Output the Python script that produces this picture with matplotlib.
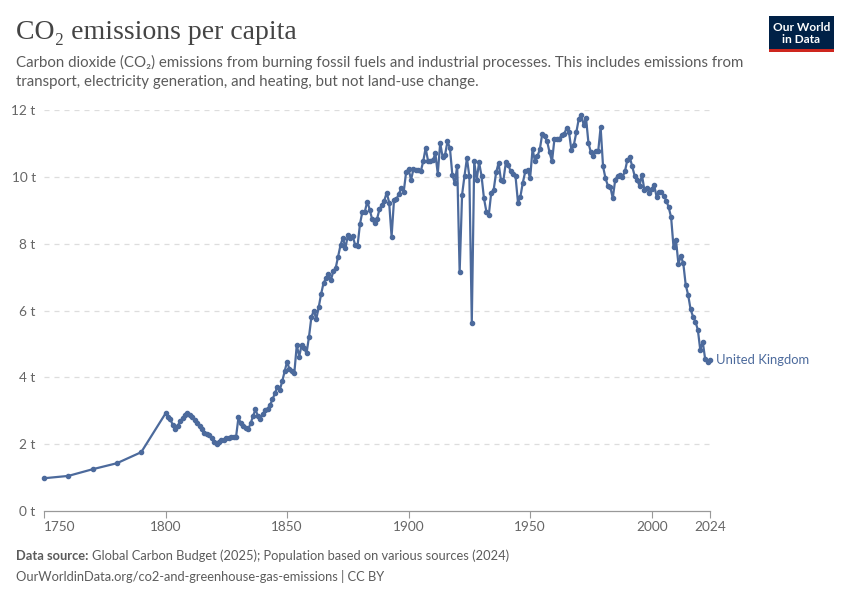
import numpy as np
import matplotlib
matplotlib.use("Agg")
import matplotlib.pyplot as plt
from matplotlib.patches import Rectangle

# UK CO2 emissions per capita (tonnes)
early_years = [1750, 1760, 1770, 1780, 1790]
early_values = [0.98, 1.05, 1.25, 1.43, 1.76]

annual_start = 1800
annual_values = [
    # 1800-1829
    2.92, 2.80, 2.74, 2.57, 2.45, 2.55, 2.68, 2.77, 2.87, 2.92,
    2.87, 2.80, 2.72, 2.62, 2.53, 2.45, 2.33, 2.30, 2.28, 2.18,
    2.05, 2.01, 2.05, 2.11, 2.13, 2.17, 2.18, 2.21, 2.22, 2.21,
    # 1830-1849
    2.80, 2.62, 2.55, 2.48, 2.45, 2.62, 2.84, 3.04, 2.84, 2.76,
    2.90, 3.02, 3.06, 3.17, 3.34, 3.52, 3.72, 3.62, 3.88, 4.18,
    # 1850-1899
    4.47, 4.24, 4.20, 4.14, 4.97, 4.62, 4.97, 4.87, 4.72, 5.20,
    5.80, 6.00, 5.74, 6.09, 6.49, 6.82, 6.96, 7.09, 6.90, 7.17,
    7.27, 7.61, 7.96, 8.18, 7.86, 8.25, 8.16, 8.23, 7.96, 7.94,
    8.59, 8.96, 8.96, 9.26, 9.02, 8.73, 8.61, 8.73, 9.03, 9.16,
    9.29, 9.53, 9.23, 8.21, 9.31, 9.33, 9.49, 9.66, 9.56, 10.15,
    # 1900-1949
    10.23, 9.91, 10.23, 10.21, 10.19, 10.16, 10.46, 10.86, 10.48, 10.48,
    10.49, 10.71, 10.09, 11.01, 10.59, 10.66, 11.06, 10.86, 10.06, 9.81,
    10.33, 7.14, 9.46, 10.03, 10.56, 10.01, 5.64, 10.46, 9.91, 10.43,
    10.03, 9.36, 8.96, 8.86, 9.53, 9.61, 10.13, 10.41, 9.91, 9.89,
    10.43, 10.36, 10.16, 10.09, 10.01, 9.23, 9.41, 9.83, 10.16, 10.19,
    # 1950-1999
    9.96, 10.83, 10.46, 10.61, 10.83, 11.29, 11.21, 11.06, 10.73, 10.46,
    11.13, 11.13, 11.13, 11.26, 11.28, 11.46, 11.33, 10.79, 10.96, 11.33,
    11.73, 11.86, 11.56, 11.76, 11.01, 10.73, 10.63, 10.76, 10.76, 11.49,
    10.31, 9.96, 9.73, 9.69, 9.36, 9.91, 10.03, 10.06, 9.99, 10.16,
    10.51, 10.59, 10.31, 10.03, 9.91, 9.73, 10.06, 9.61, 9.66, 9.53,
    # 2000-2024
    9.63, 9.76, 9.41, 9.56, 9.54, 9.43, 9.29, 9.09, 8.79, 7.89,
    8.11, 7.40, 7.62, 7.42, 6.77, 6.47, 6.04, 5.82, 5.67, 5.42,
    4.82, 5.07, 4.55, 4.47, 4.52,
]

years = early_years + list(range(annual_start, annual_start + len(annual_values)))
values = early_values + annual_values

x_ticks = [1750, 1800, 1850, 1900, 1950, 2000, 2024]
y_ticks = [0, 2, 4, 6, 8, 10, 12]
country = "United Kingdom"

line_color = "#4c6a9c"
text_gray = "#5b5b5b"
axis_gray = "#666666"

sans = ["Lato", "DejaVu Sans"]
serif = ["Liberation Serif", "DejaVu Serif"]

W, H = 850, 600
fig = plt.figure(figsize=(W / 100, H / 100), dpi=100)

left, right, top, bottom = 44, 710, 110, 511
ax = fig.add_axes([left / W, 1 - bottom / H, (right - left) / W, (bottom - top) / H])

ax.plot(years, values, color=line_color, linewidth=1.6, marker="o",
        markersize=3.0, clip_on=False, zorder=3)

ax.set_xlim(1750, 2024)
ax.set_ylim(0, 12)

for v in y_ticks[1:]:
    ax.axhline(v, color="#dddddd", linewidth=0.9, linestyle=(0, (4, 4)), zorder=1)

for s in ["top", "right", "left"]:
    ax.spines[s].set_visible(False)
ax.spines["bottom"].set_color("#999999")
ax.spines["bottom"].set_linewidth(0.9)

ax.set_yticks(y_ticks)
ax.set_yticklabels([f"{v} t" for v in y_ticks], family=sans, fontsize=9.8, color=axis_gray)
ax.tick_params(axis="y", length=0, pad=6)

ax.set_xticks(x_ticks)
ax.set_xticklabels([str(v) for v in x_ticks], family=sans, fontsize=9.8, color=axis_gray)
ax.tick_params(axis="x", length=5, width=0.8, color="#999999", pad=2)
ax.get_xticklabels()[0].set_horizontalalignment("left")

ax.text(years[-1] + 2.5, values[-1], country, color=line_color, family=sans,
        fontsize=9.4, va="center", ha="left", clip_on=False)

def fy(px):
    return 1 - px / H

fig.text(16 / W, fy(39), "CO₂ emissions per capita", family=serif, fontsize=20,
         color="#444444", va="baseline")
fig.text(16 / W, fy(67), "Carbon dioxide (CO₂) emissions from burning fossil fuels and "
         "industrial processes. This includes emissions from", family=sans,
         fontsize=10.8, color=text_gray, va="baseline")
fig.text(16 / W, fy(86), "transport, electricity generation, and heating, but not "
         "land-use change.", family=sans, fontsize=10.8, color=text_gray, va="baseline")

src_label = fig.text(16 / W, fy(560), "Data source:", family=sans, fontsize=9.3,
                     color=text_gray, fontweight="bold", va="baseline")
fig.canvas.draw()
bb = src_label.get_window_extent()
fig.text((bb.x1 + 4) / W, fy(560),
         "Global Carbon Budget (2025); Population based on various sources (2024)",
         family=sans, fontsize=9.3, color=text_gray, va="baseline")
fig.text(16 / W, fy(581), "OurWorldinData.org/co2-and-greenhouse-gas-emissions | CC BY",
         family=sans, fontsize=9.3, color=text_gray, va="baseline")

# logo
fig.patches.append(Rectangle((769 / W, fy(52)), 65 / W, 36 / H, transform=fig.transFigure,
                             facecolor="#002147", edgecolor="none"))
fig.patches.append(Rectangle((769 / W, fy(52)), 65 / W, 3 / H, transform=fig.transFigure,
                             facecolor="#ce261e", edgecolor="none"))
fig.text(801.5 / W, fy(31), "Our World", family=sans, fontsize=8.6, color="white",
         ha="center", va="baseline", fontweight="bold")
fig.text(801.5 / W, fy(43), "in Data", family=sans, fontsize=8.6, color="white",
         ha="center", va="baseline", fontweight="bold")

fig.savefig("out.png", dpi=100)
